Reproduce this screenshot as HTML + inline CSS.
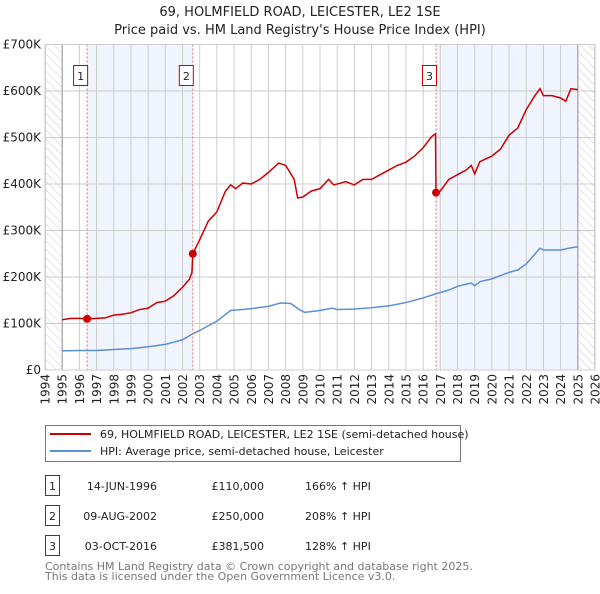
<!DOCTYPE html>
<html><head><meta charset="utf-8"><style>
body{margin:0;background:#fff;font-family:"DejaVu Sans","Liberation Sans",sans-serif;}
svg text{font-family:"DejaVu Sans","Liberation Sans",sans-serif;}
</style></head><body>
<svg id="chart" width="600" height="590" viewBox="0 0 600 590" xmlns="http://www.w3.org/2000/svg">
<defs><pattern id="hatch" width="6" height="6" patternUnits="userSpaceOnUse" patternTransform="rotate(-45)"><line x1="0" y1="0" x2="0" y2="6" stroke="#ccc" stroke-width="1"/></pattern></defs>
<text x="300" y="16" text-anchor="middle" font-size="13" fill="#222">69, HOLMFIELD ROAD, LEICESTER, LE2 1SE</text>
<text x="300" y="34" text-anchor="middle" font-size="13" fill="#222">Price paid vs. HM Land Registry's House Price Index (HPI)</text>
<g id="plot"></g>
<g>
<rect x="45.5" y="425.5" width="415" height="36" fill="#fff" stroke="#777"/>
<line x1="50" y1="434" x2="91" y2="434" stroke="#cc0000" stroke-width="2"/>
<text x="100" y="438" font-size="11" fill="#222">69, HOLMFIELD ROAD, LEICESTER, LE2 1SE (semi-detached house)</text>
<line x1="50" y1="451" x2="91" y2="451" stroke="#5b8fd6" stroke-width="2"/>
<text x="100" y="455" font-size="11" fill="#222">HPI: Average price, semi-detached house, Leicester</text>
</g>
<g font-size="11" fill="#222">
<rect x="45.5" y="475.5" width="14" height="20" fill="none" stroke="#cc0000"/><text x="52.5" y="490" text-anchor="middle">1</text>
<text x="157" y="490" text-anchor="end">14-JUN-1996</text>
<text x="264" y="490" text-anchor="end">£110,000</text>
<text x="305" y="490">166% ↑ HPI</text>
<rect x="45.5" y="505.5" width="14" height="20" fill="none" stroke="#cc0000"/><text x="52.5" y="520" text-anchor="middle">2</text>
<text x="157" y="520" text-anchor="end">09-AUG-2002</text>
<text x="264" y="520" text-anchor="end">£250,000</text>
<text x="305" y="520">208% ↑ HPI</text>
<rect x="45.5" y="535.5" width="14" height="20" fill="none" stroke="#cc0000"/><text x="52.5" y="550" text-anchor="middle">3</text>
<text x="157" y="550" text-anchor="end">03-OCT-2016</text>
<text x="264" y="550" text-anchor="end">£381,500</text>
<text x="305" y="550">128% ↑ HPI</text>
</g>
<text x="45" y="570" font-size="11" fill="#777">Contains HM Land Registry data © Crown copyright and database right 2025.</text>
<text x="45" y="580" font-size="11" fill="#777">This data is licensed under the Open Government Licence v3.0.</text>
</svg>
<script>
const yTicks=[0,100,200,300,400,500,600,700];
const yTickLabels=["£0","£100K","£200K","£300K","£400K","£500K","£600K","£700K"];
const years=[1994,1995,1996,1997,1998,1999,2000,2001,2002,2003,2004,2005,2006,2007,2008,2009,2010,2011,2012,2013,2014,2015,2016,2017,2018,2019,2020,2021,2022,2023,2024,2025,2026];
const saleTimes=[1996.45,2002.6,2016.75];
const salePrices=[110,250,381.5];
const saleLabels=["1","2","3"];
const redT=[1995.0,1995.5,1996.0,1996.45,1997,1997.5,1998,1998.5,1999,1999.5,2000,2000.5,2001,2001.5,2002,2002.4,2002.55,2002.6,2003,2003.5,2004,2004.5,2004.8,2005.1,2005.5,2006,2006.5,2007,2007.6,2008,2008.5,2008.7,2009,2009.5,2010,2010.5,2010.8,2011.5,2012,2012.5,2013,2013.5,2014,2014.5,2015,2015.5,2016,2016.5,2016.72,2016.75,2017,2017.5,2018,2018.5,2018.8,2019,2019.3,2020,2020.5,2021,2021.5,2022,2022.5,2022.8,2023,2023.5,2024,2024.3,2024.6,2025];
const redV=[108,111,111,110,111,112,118,120,123,130,133,145,148,160,178,195,210,250,280,320,340,385,398,390,402,400,410,425,445,440,410,370,372,385,390,410,398,405,398,410,410,420,430,440,447,460,478,502,508,381.5,385,410,420,430,440,422,448,460,475,505,520,560,590,605,590,590,585,578,605,603];
const hpiT=[1995,1996,1997,1998,1999,2000,2001,2002,2002.6,2003,2004,2004.8,2005.5,2006,2007,2007.7,2008.3,2008.8,2009.1,2010,2010.7,2011,2012,2013,2014,2015,2016,2016.75,2017.5,2018,2018.8,2019,2019.3,2020,2021,2021.5,2022,2022.8,2023,2024,2024.5,2025];
const hpiV=[41,42,42,44,46,50,55,65,78,85,105,128,130,132,137,144,143,130,124,128,133,130,131,134,138,145,155,164,172,180,187,181,190,196,210,215,228,262,258,258,262,265];

const L=45,R=595,T=44.5,B=370;
const x=t=>L+(t-1994)*(R-L)/32;
const y=v=>B-v*(B-T)/700;
const NS="http://www.w3.org/2000/svg";
const g=document.getElementById('plot');
function mk(tag,attrs){const e=document.createElementNS(NS,tag);for(const k in attrs)e.setAttribute(k,attrs[k]);g.appendChild(e);return e;}

let e;
e=mk('rect',{x:x(saleTimes[0]),y:T,width:x(saleTimes[1])-x(saleTimes[0]),height:B-T,fill:'#f0f4fc'});


e=mk('rect',{x:x(saleTimes[2]),y:T,width:x(2025)-x(saleTimes[2]),height:B-T,fill:'#f0f4fc'});


e=mk('rect',{x:L,y:T,width:x(1995)-L,height:B-T,fill:'url(#hatch)'});


e=mk('rect',{x:x(2025),y:T,width:R-x(2025),height:B-T,fill:'url(#hatch)'});



yTicks.forEach((v,i)=>{
  e=mk('line',{x1:L,x2:R,y1:y(v),y2:y(v),stroke:'#ccc','stroke-width':1});
  
  
  e=mk('text',{x:L-4,y:y(v)+4,'text-anchor':'end','font-size':12,fill:'#222'});
  e.textContent=yTickLabels[i];
  
  
});
years.forEach(yr=>{
  e=mk('line',{x1:x(yr),x2:x(yr),y1:T,y2:B,stroke:'#ccc','stroke-width':1});
  
  
  e=mk('text',{x:0,y:0,'text-anchor':'end','font-size':12,fill:'#222',transform:`translate(${x(yr)+4.5},${B+4}) rotate(-90)`});
  e.textContent=yr;
  
  
});
[1995,2025].forEach(yr=>{
  e=mk('line',{x1:x(yr),x2:x(yr),y1:T,y2:B,stroke:'#999','stroke-width':1});
  
  
});
saleTimes.forEach((t,i)=>{
  e=mk('line',{x1:x(t),x2:x(t),y1:T,y2:B,stroke:'#f07070','stroke-width':1,'stroke-dasharray':'2,2'});
  
  
});
e=mk('polyline',{points:hpiT.map((t,i)=>x(t)+','+y(hpiV[i])).join(' '),fill:'none',stroke:'#5b8fd6','stroke-width':1.5});


e=mk('polyline',{points:redT.map((t,i)=>x(t)+','+y(redV[i])).join(' '),fill:'none',stroke:'#cc0000','stroke-width':1.5});


saleTimes.forEach((t,i)=>{
  e=mk('circle',{cx:x(t),cy:y(salePrices[i]),r:4,fill:'#cc0000'});
  
  
  e=mk('rect',{x:x(t)-13.5,y:65.5,width:14,height:20,fill:'#fff',stroke:'#cc0000'});
  
  
  e=mk('text',{x:x(t)-6.5,y:80,'text-anchor':'middle','font-size':11,fill:'#222'});
  e.textContent=saleLabels[i];
  
  
});
e=mk('rect',{x:L+0.5,y:T,width:R-L-1,height:B-T,fill:'none',stroke:'#ccc'});


</script>
</body></html>
